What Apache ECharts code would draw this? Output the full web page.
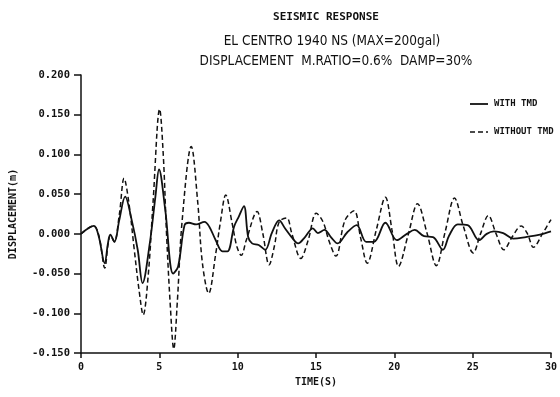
<!DOCTYPE html>
<html>
<head>
<meta charset="utf-8">
<script src="https://cdn.jsdelivr.net/npm/echarts@6/dist/echarts.min.js"></script>
<style>
  html, body { margin: 0; padding: 0; background: #fff; }
  #chart { width: 560px; height: 397px; }
</style>
</head>
<body>
<div id="chart"></div>
<script>
// Time axis ticks (s)
const timeTicks = [0, 5, 10, 15, 20, 25, 30];
// Displacement axis ticks (m)
const dispTicks = [-0.15, -0.10, -0.05, 0.00, 0.05, 0.10, 0.15, 0.20];
// Legend entries
const seriesNames = ['WITH TMD', 'WITHOUT TMD'];

// Response with TMD (solid line)
const withTime = [0, 0.82, 1.13, 1.51, 1.72, 1.87, 2.14, 2.44, 2.82, 3.24, 3.62, 3.93, 4.39, 4.75, 4.98,
  5.38, 5.88, 6.2, 6.61, 6.89, 7.35, 7.88, 8.19, 8.6, 9.03, 9.35, 9.77, 10.08, 10.4, 10.67, 10.92,
  11.34, 11.76, 12.18, 12.65, 13.02, 13.44, 13.86, 14.3, 14.8, 15.12, 15.54, 15.95, 16.38, 17.0,
  17.6, 18.2, 18.7, 19.43, 20.16, 20.8, 21.3, 21.9, 22.47, 23.1, 23.5, 24.05, 24.68, 25.41, 25.9,
  26.35, 26.95, 27.6, 28.4, 29.3, 30.0];
const withDisp = [0, 0.010, -0.003, -0.037, -0.012, -0.001, -0.010, 0.017, 0.047, 0.017, -0.020, -0.062, -0.012, 0.047, 0.081,
  0.030, -0.050, -0.041, 0.011, 0.014, 0.012, 0.015, 0.009, -0.008, -0.022, -0.022, 0.009, 0.022, 0.035, -0.004, -0.012,
  -0.014, -0.020, 0.001, 0.017, 0.007, -0.004, -0.012, -0.004, 0.007, 0.001, 0.005, -0.004, -0.012, 0.002,
  0.011, -0.010, -0.010, 0.014, -0.008, 0.000, 0.005, -0.003, -0.004, -0.020, -0.002, 0.012, 0.011, -0.008, 0.000,
  0.003, 0.001, -0.006, -0.004, -0.001, 0.003];

// Response without TMD (dashed line)
const withoutTime = [0, 0.8, 1.15, 1.52, 1.72, 1.88, 2.12, 2.45, 2.75, 3.05, 3.4, 3.7, 3.97, 4.3, 4.6, 5.02,
  5.25, 5.46, 5.7, 5.92, 6.15, 6.45, 7.04, 7.45, 7.75, 8.15, 8.6, 8.9, 9.24, 9.65, 9.95, 10.23, 10.55,
  11.24, 11.6, 12.01, 12.35, 12.65, 13.13, 13.45, 14.03, 14.5, 15.02, 15.45, 15.85, 16.27, 16.85, 17.43,
  17.85, 18.27, 18.85, 19.43, 19.85, 20.27, 20.9, 21.48, 22.1, 22.68, 23.25, 23.84, 24.4, 25.04, 25.5,
  26.0, 26.5, 26.99, 27.55, 28.1, 28.5, 28.88, 29.45, 30.0];
const withoutDisp = [0, 0.010, -0.003, -0.043, -0.014, -0.002, -0.010, 0.025, 0.070, 0.040, -0.020, -0.070, -0.102, -0.050, 0.040, 0.157,
  0.100, 0.000, -0.090, -0.145, -0.085, 0.015, 0.110, 0.040, -0.037, -0.075, -0.025, 0.015, 0.049, 0.013, -0.016, -0.027, -0.008,
  0.028, 0.001, -0.039, -0.015, 0.015, 0.020, 0.001, -0.031, -0.008, 0.026, 0.015, -0.010, -0.028, 0.017, 0.029,
  -0.005, -0.037, 0.005, 0.046, 0.005, -0.041, 0.000, 0.038, 0.000, -0.040, 0.003, 0.045, 0.010, -0.024, 0.000,
  0.023, 0.000, -0.020, -0.003, 0.010, 0.000, -0.017, 0.000, 0.018];

const pairs = (xs, ys) => xs.map((x, i) => [x, ys[i]]);

const ink = '#111';
const monoBold = { fontFamily: 'DejaVu Sans Mono', fontWeight: 'bold', fontSize: 10, color: ink };
const solidStyle = { color: ink, width: 1.8, type: 'solid' };
const dashedStyle = { color: ink, width: 1.5, type: [5, 3] };

// Key entry: short line sample followed by its label
function legendEntry(y, style, label) {
  return {
    type: 'group',
    children: [
      { type: 'line', shape: { x1: 470, y1: y, x2: 488, y2: y },
        style: { stroke: ink, lineWidth: style.width, lineDash: style.type === 'solid' ? null : style.type } },
      { type: 'text', x: 494, y: y,
        style: { text: label, fill: ink, font: 'bold 9px "DejaVu Sans Mono"', verticalAlign: 'middle', align: 'left' } }
    ]
  };
}

const chart = echarts.init(document.getElementById('chart'), null, { renderer: 'canvas' });
chart.setOption({
  animation: false,
  backgroundColor: '#fff',
  title: [
    { text: 'SEISMIC RESPONSE', left: 321, top: 7, textAlign: 'center',
      textStyle: { fontFamily: 'DejaVu Sans Mono', fontWeight: 'bold', fontSize: 11, color: ink } },
    { text: 'EL CENTRO 1940 NS (MAX=200gal)', left: 327, top: 29, textAlign: 'center',
      textStyle: { fontFamily: 'DejaVu Sans Condensed', fontWeight: 'normal', fontSize: 13.5, color: ink } },
    { text: 'DISPLACEMENT  M.RATIO=0.6%  DAMP=30%', left: 331, top: 49, textAlign: 'center',
      textStyle: { fontFamily: 'DejaVu Sans Condensed', fontWeight: 'normal', fontSize: 13.5, color: ink } }
  ],
  graphic: [
    legendEntry(104, solidStyle, seriesNames[0]),
    legendEntry(132, dashedStyle, seriesNames[1])
  ],
  grid: { left: 80, right: 3, top: 75, bottom: 44, containLabel: false },
  xAxis: {
    type: 'value',
    min: timeTicks[0],
    max: timeTicks[timeTicks.length - 1],
    interval: 5,
    name: 'TIME(S)',
    nameLocation: 'middle',
    nameGap: 24,
    nameTextStyle: monoBold,
    axisLine: { onZero: false, lineStyle: { color: ink, width: 1.5 } },
    axisTick: { show: true, inside: false, length: 5, lineStyle: { color: ink, width: 1.5 } },
    axisLabel: Object.assign({ margin: 9 }, monoBold),
    splitLine: { show: false }
  },
  yAxis: {
    type: 'value',
    min: dispTicks[0],
    max: dispTicks[dispTicks.length - 1],
    interval: 0.05,
    name: 'DISPLACEMENT(m)',
    nameLocation: 'middle',
    nameGap: 63,
    nameTextStyle: monoBold,
    axisLine: { show: true, onZero: false, lineStyle: { color: ink, width: 1.5 } },
    axisTick: { show: true, inside: false, length: 7, lineStyle: { color: ink, width: 1.5 } },
    axisLabel: Object.assign({ margin: 11, formatter: v => v.toFixed(3) }, monoBold, { fontSize: 10.5 }),
    splitLine: { show: false }
  },
  series: [
    {
      name: seriesNames[0],
      type: 'line',
      data: pairs(withTime, withDisp),
      smooth: 0.35,
      symbol: 'none',
      lineStyle: solidStyle
    },
    {
      name: seriesNames[1],
      type: 'line',
      data: pairs(withoutTime, withoutDisp),
      smooth: 0.35,
      symbol: 'none',
      lineStyle: dashedStyle
    }
  ]
});
</script>
</body>
</html>
